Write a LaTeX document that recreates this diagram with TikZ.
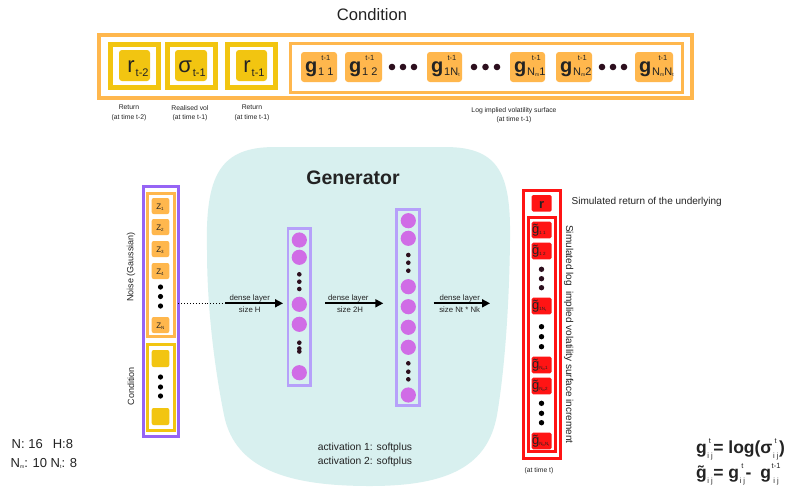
\documentclass[tikz,border=0pt]{standalone}
\usepackage{fontspec}
\setmainfont{Liberation Sans}
\usetikzlibrary{calc,arrows.meta}
\definecolor{orC}{RGB}{255,183,77}
\definecolor{yeC}{RGB}{242,197,17}
\definecolor{puC}{RGB}{150,100,245}
\definecolor{laC}{RGB}{182,160,250}
\definecolor{ciC}{RGB}{208,108,230}
\definecolor{teC}{RGB}{216,240,239}
\definecolor{reC}{RGB}{255,20,20}
\definecolor{dotC}{RGB}{45,15,30}
\definecolor{txC}{RGB}{35,35,35}
\newcommand\fsz[1]{\fontsize{#1}{#1}\selectfont}
\newcommand\Nsb[2][5]{N\raisebox{-1.5pt}{\fsz{#1}#2}}
\newcommand\stk[6]{%
 \setbox0=\hbox{\mdseries\fsz{#1}#5}%
 \setbox2=\hbox{\mdseries\fsz{#2}#6}%
 \dimen0=\wd0 \ifdim\wd2>\dimen0 \dimen0=\wd2 \fi
 \hbox to\dimen0{\hss\raise#3\box0\hss}\kern-\dimen0
 \hbox to\dimen0{\hss\lower#4\box2\hss}}
\newcommand\boxat[6]{%
 \pgfmathsetmacro\bxw{#5-#3}\pgfmathsetmacro\bxh{#6-#4}%
 \node[#1,minimum width=\bxw pt,minimum height=\bxh pt,anchor=north west] (#2) at (#3,#4) {};}
\newcommand\gtop[4]{%
 \boxat{gfill}{#1}{#2}{52}{#3}{82}
 \node[anchor=base west,font=\bfseries\fsz{20}] (#1t) at (#2+4,72) {g\hspace{1pt}\stk{7.5}{11}{12pt}{3pt}{t-1}{#4}};}
\newcommand\gred[3]{%
 \boxat{rfill}{#1}{531.7}{#2}{551.5}{#2+16.6}
 \node[anchor=base west,font=\fsz{13}] (#1t) at (532.2,#2+12) {g̃\raisebox{-0.5pt}{\fsz{4.5}#3}};}
\newcommand\zbox[3]{%
 \boxat{zfill}{#1}{151.7}{#2}{169.3}{#2+16}
 \node[anchor=base west,font=\fsz{8}] (#1t) at (156.3,#2+11.3) {Z\raisebox{-1.2pt}{\fsz{4.5}#3}};}
\begin{document}
\begin{tikzpicture}[x=1pt,y=-1pt,
  every node/.style={inner sep=0pt,outer sep=0pt,text=txC},
  gfill/.style={fill=orC,rounded corners=3pt},
  yfill/.style={fill=yeC,rounded corners=3pt},
  zfill/.style={fill=orC,rounded corners=2pt},
  cfill/.style={fill=yeC,rounded corners=2pt},
  rfill/.style={fill=reC,rounded corners=1.5pt},
  oframe/.style={draw=orC},
  yframe/.style={draw=yeC},
  pframe/.style={draw=puC,line width=3.3pt},
  lframe/.style={draw=laC,line width=2.5pt},
  rframe/.style={draw=reC,line width=3pt},
  neuron/.style={circle,fill=ciC,minimum size=15.2pt},
  small/.style={font=\fontsize{6.8}{9.5}\selectfont,align=center},
  lab/.style={font=\fsz{7.8}},
  formula/.style={anchor=base west,font=\bfseries\fsz{17.5}},
  arr/.style={line width=1.8pt,-{Triangle[length=8pt,width=8pt]}},
]
\fill[white] (0,0) rectangle (791,496);
\useasboundingbox (0,0) rectangle (791,496);

% ---------- Generator background ----------
\fill[teC] (207,250) .. controls (205,175) and (220,147) .. (275,147)
  -- (445,147) .. controls (500,147) and (511,175) .. (510,240)
  .. controls (509,320) and (503,380) .. (497,415)
  .. controls (488,465) and (450,486) .. (370,486)
  .. controls (290,486) and (235,470) .. (224,415)
  .. controls (215,370) and (207,310) .. cycle;
\node[font=\bfseries\fsz{19.5}] (gen) at (353,178) {Generator};

% ---------- Condition (top) ----------
\node[font=\fsz{16.6}] (title) at (372,15) {Condition};
\boxat{oframe,line width=4pt}{outer}{99}{35}{692}{98}
\boxat{yframe,line width=5pt}{yb1}{110.5}{44.5}{158.5}{87.5}
\boxat{yframe,line width=5pt}{yb2}{167.5}{44.5}{215.5}{87.5}
\boxat{yframe,line width=5pt}{yb3}{227.5}{44.5}{275.5}{87.5}
\boxat{yfill}{yi1}{119}{50}{150}{81}
\boxat{yfill}{yi2}{175}{50}{207}{81}
\boxat{yfill}{yi3}{236}{50}{267}{81}
\node[anchor=base,font=\fsz{22}] (yt1) at (138,72) {r\hspace{1pt}\raisebox{-4pt}{\fsz{11}t-2}};
\node[anchor=base,font=\fsz{22}] (yt2) at (192,72) {σ\hspace{1pt}\raisebox{-4pt}{\fsz{11}t-1}};
\node[anchor=base,font=\fsz{22}] (yt3) at (254,72) {r\hspace{1pt}\raisebox{-4pt}{\fsz{11}t-1}};
\boxat{oframe,line width=3pt}{gcont}{290.5}{43.5}{682.5}{92.5}
\gtop{g1}{301}{337}{1 1}
\gtop{g2}{345}{382}{1 2}
\gtop{g3}{427}{462}{1\Nsb{t}}
\gtop{g4}{510}{545}{\Nsb{m}1}
\gtop{g5}{556}{592}{\Nsb{m}2}
\gtop{g6}{635}{673}{\Nsb{m}\Nsb{t}}
\foreach \x in {392,403,414,474,485.5,497,602,613,624}
  \fill[dotC] (\x,67) circle[radius=3.3pt];
\node[small] (l1) at (129,113) {Return\\(at time t-2)};
\node[small] (l2) at (190,113) {Realised vol\\(at time t-1)};
\node[small] (l3) at (252,113) {Return\\(at time t-1)};
\node[small] (l4) at (514,115) {Log implied volatility surface\\(at time t-1)};

% ---------- Input column ----------
\boxat{pframe}{inframe}{143.3}{186.6}{178.4}{436.4}
\boxat{oframe,line width=3pt}{noise}{147.5}{193.2}{174.5}{336.5}
\boxat{yframe,line width=3pt}{condf}{147.5}{344.5}{174.5}{430.5}
\zbox{z1}{198}{1}
\zbox{z2}{219}{2}
\zbox{z3}{241}{3}
\zbox{z4}{263}{4}
\zbox{zN}{317}{N}
\foreach \y in {287,296.5,306}
  \fill[black] (160.5,\y) circle[radius=2.6pt];
\boxat{cfill}{c1}{151.7}{350}{169.3}{367}
\boxat{cfill}{c2}{151.7}{408}{169.3}{425}
\foreach \y in {377,387,396}
  \fill[black] (160.5,\y) circle[radius=2.6pt];
\node[rotate=90,font=\fsz{9}] (noiselab) at (131,267) {Noise (Gaussian)};
\node[rotate=90,font=\fsz{9}] (condlab) at (131,386) {Condition};

% ---------- Hidden layers ----------
\boxat{lframe}{lay1}{288}{228.3}{310.4}{385.7}
\foreach \y/\n in {240/a,257.3/b,304.3/c,324.3/d,372.7/e}
  \node[neuron] (h1\n) at (299.3,\y) {};
\foreach \y in {274.3,281.7,289,342.7,348.5,351.5}
  \fill[dotC] (299.3,\y) circle[radius=2.3pt];
\boxat{lframe}{lay2}{396.3}{209.3}{419.7}{405.7}
\foreach \y/\n in {220.7/a,238.3/b,286.7/c,306.7/d,327.3/e,347.3/f,395/g}
  \node[neuron] (h2\n) at (408.3,\y) {};
\foreach \y in {255,262.7,270.7,363.3,371.7,379.3}
  \fill[dotC] (408.3,\y) circle[radius=2.3pt];

% ---------- Arrows ----------
\coordinate (d1) at (225,303.3);
\coordinate (a3e) at (490,303.3);
\draw[dotted,line width=0.9pt] (d1 -| inframe.east) -- (d1);
\draw[arr,shorten >=5pt] (d1) -- (d1 -| lay1.west);
\draw[arr,shorten <=15pt,shorten >=13pt] (d1 -| lay1.east) -- (d1 -| lay2.west);
\draw[arr,shorten <=14pt] (d1 -| lay2.east) -- (a3e);
\node[lab,anchor=base] (t1a) at (249.7,300) {dense layer};
\node[lab,anchor=base] (t1b) at (249.8,312) {size H};
\node[lab,anchor=base] (t2a) at (348.3,300) {dense layer};
\node[lab,anchor=base] (t2b) at (350,312) {size 2H};
\node[lab,anchor=base] (t3a) at (459.7,300) {dense layer};
\node[lab,anchor=base] (t3b) at (459.7,312) {size Nt * Nk};
\node[font=\fontsize{10.3}{14}\selectfont,align=left] (act) at (365,455) {activation 1: softplus\\activation 2: softplus};

% ---------- Output column ----------
\boxat{rframe}{outf}{523.2}{190.5}{560.2}{458.5}
\boxat{rframe}{gout}{528.2}{217.5}{555.2}{451.2}
\boxat{rfill}{rbox}{531.7}{195}{551.7}{211.7}
\node[anchor=base,font=\bfseries\fsz{13}] (rt) at (541.7,208) {r};
\gred{o1}{221.7}{1 1}
\gred{o2}{242.7}{1 2}
\gred{o3}{297.7}{1\Nsb[3]{t}}
\gred{o4}{356.7}{\Nsb[3]{m}1}
\gred{o5}{377.7}{\Nsb[3]{m}2}
\gred{o6}{432.7}{\Nsb[3]{m}\Nsb[3]{t}}
\foreach \y in {269.3,278.7,287.7}
  \fill[dotC] (541.5,\y) circle[radius=2.7pt];
\foreach \y in {326.7,336.7,346.7,403.3,413.3,422.7}
  \fill[black] (541.5,\y) circle[radius=2.7pt];
\node[anchor=base west,font=\fsz{10}] (simr) at (571.7,204) {Simulated return of the underlying};
\node[rotate=-90,font=\fsz{10}] (siml) at (568.8,334.5) {Simulated log\ \ implied volatility surface increment};
\node[small] (att) at (539,471) {(at time t)};

% ---------- Bottom texts ----------
\node[anchor=base west,font=\fsz{13}] (nh) at (11.7,448) {N: 16\hspace{10pt}H:8};
\node[anchor=base west,font=\fsz{13}] (nmt) at (10.7,467) {\Nsb{m}: 10 \Nsb{t}: 8};
\node[formula] (f1) at (696,453)
  {g\kern0.6pt\stk{7.5}{7.5}{9.5pt}{5pt}{t}{i j}\kern0.6pt= log(σ\kern0.6pt\stk{7.5}{7.5}{9.5pt}{5pt}{t}{i j}\kern0.6pt)};
\node[formula] (f2) at (696,478)
  {g̃\kern0.6pt\raisebox{-5pt}{\mdseries\fsz{7.5}i j}\kern0.6pt = g\kern0.6pt\stk{7.5}{7.5}{9.5pt}{5pt}{t}{i j}\kern0.6pt-\hspace{4pt} g\kern0.6pt\stk{7.5}{7.5}{9.5pt}{5pt}{t-1}{i j}};
\end{tikzpicture}
\end{document}
